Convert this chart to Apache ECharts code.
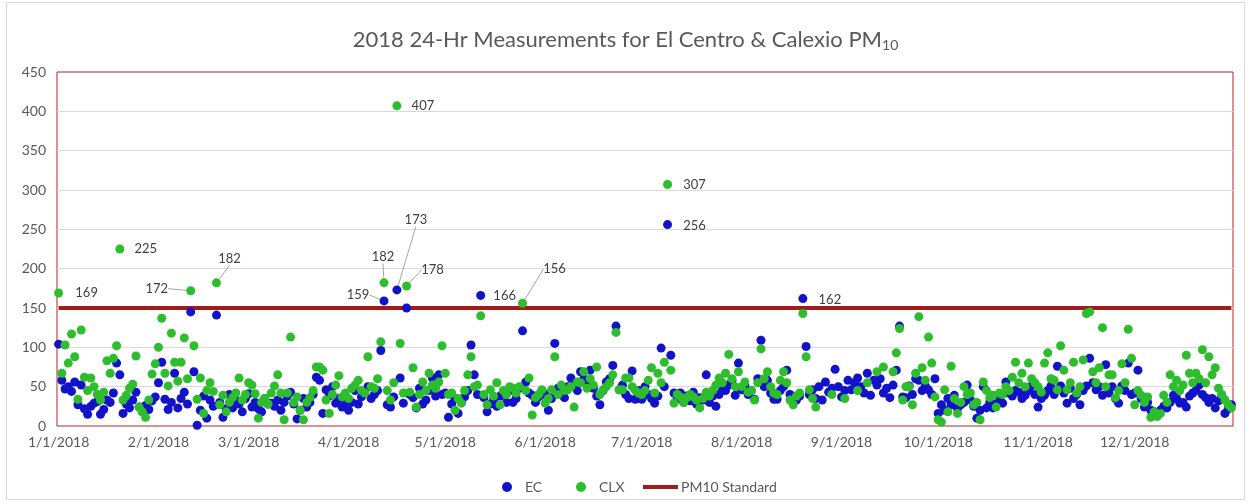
<!DOCTYPE html>
<html><head><meta charset="utf-8">
<script src="https://cdn.jsdelivr.net/npm/echarts@6/dist/echarts.min.js"></script>
<style>html,body{margin:0;padding:0;background:#fff}#c{width:1251px;height:504px}</style>
</head><body><div id="c"></div>
<script>
// ---- DATA ----
const year = 2018;
const daysInMonth = [31,28,31,30,31,30,31,31,30,31,30,31];
const monthTickLabels = ['1/1/2018','2/1/2018','3/1/2018','4/1/2018','5/1/2018','6/1/2018','7/1/2018','8/1/2018','9/1/2018','10/1/2018','11/1/2018','12/1/2018'];

// El Centro (EC) daily 24-hr PM10, one array per month (null = no sample)
const ecJan = [104,58,47,50,44,56,27,52,22,15,25,29,31,15,21,33,30,42,80,65,16,28,23,33,43,24,18,26,21,32,37];
const ecFeb = [55,81,34,21,30,67,23,35,43,28,145,69,1,20,38,10,33,25,141,30,11,22,40,23,33,28,18,35];
const ecMar = [41,24,30,22,18,35,28,29,25,33,20,30,38,43,28,9,20,35,24,30,40,62,58,16,46,38,50,29,35,24,30];
const ecApr = [20,30,45,28,37,42,50,35,40,45,96,159,27,24,37,173,61,29,150,40,36,23,48,28,33,45,61,38,65,40];
const ecMay = [42,11,28,35,16,30,37,45,103,65,40,166,36,18,28,33,25,38,42,30,45,30,35,48,121,56,42,39,30,37,45];
const ecJun = [40,20,35,105,48,42,36,50,61,55,45,69,60,52,71,48,38,27,45,56,60,77,127,46,52,40,35,70,34,45];
const ecJul = [34,50,40,35,29,38,99,50,256,90,42,35,42,30,38,32,43,28,36,33,65,30,38,25,40,48,45,52,58,39,80];
const ecAug = [46,52,40,45,34,60,109,50,58,42,34,34,45,50,71,40,30,33,38,162,101,40,46,35,50,33,56,43,48,72,50];
const ecSep = [37,45,58,46,55,61,50,42,67,39,58,52,60,42,48,36,52,71,127,37,36,51,40,60,58,45,51,46,40,60];
const ecOct = [16,27,20,35,27,39,22,27,30,52,33,25,10,20,50,23,30,23,28,35,29,56,42,38,45,43,35,39,45,51,40];
const ecNov = [24,35,39,45,51,40,76,51,42,29,48,35,40,27,45,51,86,55,46,50,39,78,42,50,35,29,51,45,80,40];
const ecDec = [42,71,35,24,30,20,18,15,20,25,23,30,39,35,29,30,24,38,42,45,52,40,36,30,35,23,32,39,16,22,27];

// Calexico (CLX) daily 24-hr PM10, one array per month (null = no sample)
const clxJan = [169,67,103,80,117,88,34,122,62,45,61,50,40,33,43,83,67,86,102,225,33,39,48,53,89,24,18,11,33,66,79];
const clxFeb = [100,137,67,51,118,81,57,81,112,60,172,102,34,61,16,45,55,44,182,27,39,18,30,36,42,61,33,40];
const clxMar = [55,52,41,10,30,35,28,42,51,65,42,8,42,113,30,37,20,8,30,36,45,75,75,71,33,16,40,52,64,37,42];
const clxApr = [35,48,52,58,45,42,88,50,48,60,107,182,45,33,55,407,105,42,178,43,74,24,40,56,45,67,52,48,56,102];
const clxMay = [67,40,42,20,35,29,45,65,88,50,52,140,40,27,46,38,55,27,45,40,50,48,42,50,156,45,61,14,36,40,46];
const clxJun = [29,35,46,88,40,52,45,46,50,24,56,55,69,48,60,52,75,40,46,50,55,65,119,46,46,61,61,50,45,42];
const clxJul = [40,45,58,74,42,67,55,81,307,71,29,40,37,30,36,40,37,33,23,35,43,38,45,52,61,55,67,91,60,50,69];
const clxAug = [50,56,43,45,33,55,98,60,69,50,42,40,58,69,55,33,27,38,42,143,88,46,35,24,null,null,null,null,40,null,null];
const clxSep = [null,35,null,null,null,45,null,null,55,null,null,69,null,75,null,null,69,93,124,33,50,50,27,67,139,74,58,113,80,37];
const clxOct = [8,5,46,18,76,35,16,30,50,40,42,27,30,8,56,45,36,39,24,42,40,50,45,62,81,55,67,50,80,60,55];
const clxNov = [50,43,80,93,60,58,46,102,71,46,55,81,42,50,84,143,145,69,55,74,125,50,65,65,36,45,79,55,123,86];
const clxDec = [27,45,39,30,37,11,18,12,16,39,30,65,50,58,45,52,90,67,55,67,60,97,55,88,65,74,48,40,33,27,23];

const pm10Standard = 150;

// Day-of-year indices whose values carry a data label
const ecLabelled = [101, 105, 131, 189, 231];
const clxLabelled = [0, 19, 41, 49, 101, 105, 108, 144, 189];
// ---- END DATA ----

const ecValues = [].concat(ecJan,ecFeb,ecMar,ecApr,ecMay,ecJun,ecJul,ecAug,ecSep,ecOct,ecNov,ecDec);
const clxValues = [].concat(clxJan,clxFeb,clxMar,clxApr,clxMay,clxJun,clxJul,clxAug,clxSep,clxOct,clxNov,clxDec);
const categories = [];
daysInMonth.forEach((n, m) => { for (let d = 1; d <= n; d++) categories.push((m+1) + '/' + d + '/' + year); });

// label placement (style): offset of label centre from point centre, leader line flag
const ecLabelPos = {101:{dx:-26,dy:-6,line:true},105:{dx:19,dy:-70,line:true},131:{dx:24,dy:0},189:{dx:27,dy:1},231:{dx:27,dy:1}};
const clxLabelPos = {0:{dx:28,dy:0},19:{dx:26,dy:0},41:{dx:-34,dy:-2,line:true},49:{dx:13,dy:-24,line:true},101:{dx:-1,dy:-26,line:true},105:{dx:26,dy:0},108:{dx:26,dy:-16,line:true},144:{dx:32,dy:-34,line:true},189:{dx:27,dy:0}};

const FONT = 'Lato, "Open Sans", sans-serif';
const TXT = '#595959';
const leader = {show:true, lineStyle:{color:'#a6a6a6', width:1}};

function build(values, labelled, pos) {
  return values.map((v, i) => {
    if (v == null) return '-';
    if (labelled.indexOf(i) >= 0) {
      const item = {value: v, label: {show: true}};
      if (pos[i] && pos[i].line) item.labelLine = leader;
      return item;
    }
    return v;
  });
}
function layoutFn(pos) {
  return function (p) {
    const o = pos[p.dataIndex];
    if (!o) return {};
    const cx = p.rect.x + p.rect.width / 2, cy = p.rect.y + p.rect.height / 2;
    return {x: cx + o.dx, y: cy + o.dy, align: 'center', verticalAlign: 'middle'};
  };
}
const labelStyle = {show:false, formatter: p => p.value, color:'#404040', fontSize:13, fontFamily:FONT};

const chart = echarts.init(document.getElementById('c'), null, {renderer:'canvas'});
chart.setOption({
  animation: false,
  backgroundColor: '#fff',
  textStyle: {fontFamily: FONT},
  title: {
    text: '{a|2018 24-Hr Measurements for El Centro & Calexio PM}{b|10}',
    left: 'center', top: 20,
    textStyle: {fontWeight: 'normal', rich: {
      a: {fontSize: 22, color: TXT, fontFamily: FONT, fontWeight: 'normal', lineHeight: 30},
      b: {fontSize: 14, color: TXT, fontFamily: FONT, fontWeight: 'normal', lineHeight: 30, padding: [11,0,0,0]}
    }}
  },
  graphic: [{type:'rect', shape:{x:6.5, y:2.5, width:1238, height:497}, style:{fill:'none', stroke:'#d9d9d9', lineWidth:1}, silent:true, z:-10}],
  legend: [
    {data:['EC'], left: 497, top: 475, icon:'circle', itemWidth:10, itemHeight:10, textStyle:{color:TXT, fontSize:14, fontFamily:FONT, padding:[0,0,0,8]}},
    {data:['CLX'], left: 571, top: 475, icon:'circle', itemWidth:10, itemHeight:10, textStyle:{color:TXT, fontSize:14, fontFamily:FONT, padding:[0,0,0,8]}},
    {data:['PM10 Standard'], left: 638, top: 475, icon:'rect', itemWidth:35, itemHeight:4, textStyle:{color:TXT, fontSize:14, fontFamily:FONT, padding:[0,0,0,-2]}}
  ],
  grid: {left: 57, right: 18, top: 72, bottom: 78, show: true, borderColor: '#a52a2a', borderWidth: 1, backgroundColor: 'transparent'},
  xAxis: {
    type: 'category', data: categories, boundaryGap: true,
    axisLine: {show:false}, axisTick: {show:false},
    axisLabel: {interval: (i, v) => monthTickLabels.indexOf(v) >= 0, color: TXT, fontSize: 14, fontFamily: FONT, margin: 9,
                alignMinLabel: 'center', alignMaxLabel: 'center', hideOverlap: false},
    splitLine: {show:false}
  },
  yAxis: {
    type: 'value', min: 0, max: 450, interval: 50,
    axisLine: {show:false}, axisTick: {show:false},
    axisLabel: {color: TXT, fontSize: 14, fontFamily: FONT, margin: 11},
    splitLine: {show:true, showMinLine:false, showMaxLine:false, lineStyle:{color:'#d9d9d9', width:1}}
  },
  series: [
    {name:'PM10 Standard', type:'line', data: categories.map(() => pm10Standard), symbol:'none', silent:true,
     itemStyle:{color:'#a31a1a'}, lineStyle:{color:'#a31a1a', width:4}, z:1},
    {name:'EC', type:'scatter', symbolSize:9, itemStyle:{color:'#1212c8', opacity:1}, z:2,
     data: build(ecValues, ecLabelled, ecLabelPos), label: labelStyle, labelLayout: layoutFn(ecLabelPos)},
    {name:'CLX', type:'scatter', symbolSize:9, itemStyle:{color:'#2dbd2d', opacity:1}, z:3,
     data: build(clxValues, clxLabelled, clxLabelPos), label: labelStyle, labelLayout: layoutFn(clxLabelPos)}
  ]
});
</script></body></html>
